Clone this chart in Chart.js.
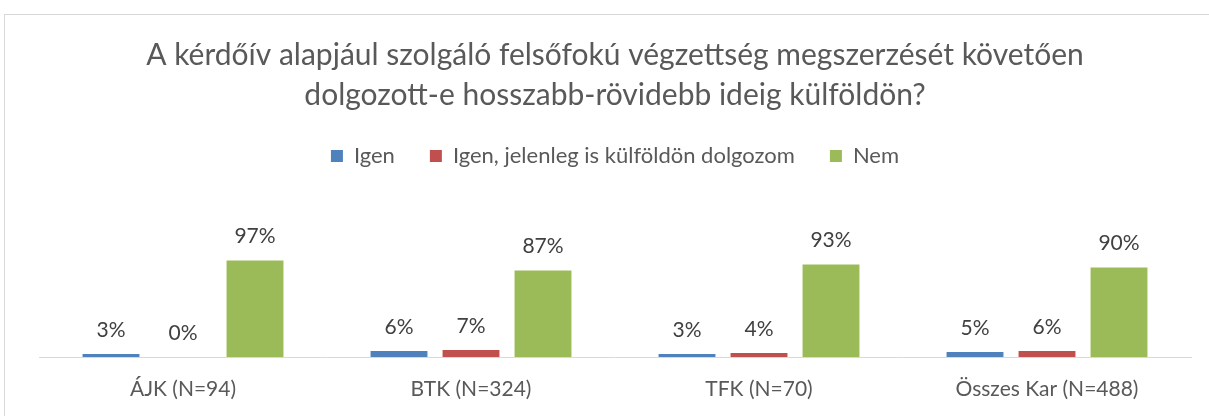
<!DOCTYPE html>
<html>
<head>
<meta charset="utf-8">
<script src="https://cdn.jsdelivr.net/npm/chart.js@4/dist/chart.umd.min.js"></script>
<style>
  html, body { margin: 0; padding: 0; background: #fff; overflow: hidden; }
  #frame { position: absolute; left: 4px; top: 14px; width: 1230px; height: 430px; border: 1px solid #d9d9d9; }
  #wrap { position: absolute; left: 0; top: 0; width: 1209px; height: 421px; }
</style>
</head>
<body>
<div id="frame"></div>
<div id="wrap"><canvas id="chart"></canvas></div>
<script>
// categories and series values (percent)
const categories = ['ÁJK (N=94)', 'BTK (N=324)', 'TFK (N=70)', 'Összes Kar (N=488)'];
const igen = [3, 6, 3, 5];
const igenJelenleg = [0, 7, 4, 6];
const nem = [97, 87, 93, 90];

const seriesNames = ['Igen', 'Igen, jelenleg is külföldön dolgozom', 'Nem'];
const seriesColors = ['#4F81BD', '#C0504D', '#9BBB59'];

const textColor = '#595959';

// draws the value labels above each bar
const valueLabels = {
  id: 'valueLabels',
  afterDatasetsDraw(chart) {
    const ctx = chart.ctx;
    ctx.save();
    ctx.font = '21px Lato';
    ctx.fillStyle = '#404040';
    ctx.textAlign = 'center';
    ctx.textBaseline = 'middle';
    chart.data.datasets.forEach((ds, i) => {
      chart.getDatasetMeta(i).data.forEach((bar, j) => {
        ctx.fillText(ds.data[j] + '%', bar.x, bar.y - 24);
      });
    });
    ctx.restore();
  }
};

new Chart(document.getElementById('chart'), {
  type: 'bar',
  data: {
    labels: categories,
    datasets: [igen, igenJelenleg, nem].map((values, i) => ({
      label: seriesNames[i],
      data: values,
      backgroundColor: seriesColors[i],
      categoryPercentage: 0.75,
      barPercentage: 0.79
    }))
  },
  options: {
    responsive: true,
    maintainAspectRatio: false,
    animation: false,
    layout: { padding: { top: 35, left: 39, right: 18, bottom: 0 } },
    plugins: {
      title: {
        display: true,
        text: ['A kérdőív alapjául szolgáló felsőfokú végzettség megszerzését követően',
               'dolgozott-e hosszabb-rövidebb ideig külföldön?'],
        color: textColor,
        font: { family: 'Lato', size: 30, weight: 'normal', lineHeight: 1.3333 },
        padding: { top: 0, bottom: -5 }
      },
      legend: {
        position: 'top',
        labels: {
          color: textColor,
          font: { family: 'Lato', size: 22 },
          boxWidth: 12,
          boxHeight: 12,
          padding: 35
        }
      },
      tooltip: { enabled: false }
    },
    scales: {
      x: {
        grid: { display: false, drawTicks: false },
        border: { color: '#d9d9d9' },
        ticks: { color: textColor, font: { family: 'Lato', size: 21 }, padding: 19.4 }
      },
      y: {
        display: false,
        min: 0,
        max: 181
      }
    }
  },
  plugins: [valueLabels]
});
</script>
</body>
</html>
